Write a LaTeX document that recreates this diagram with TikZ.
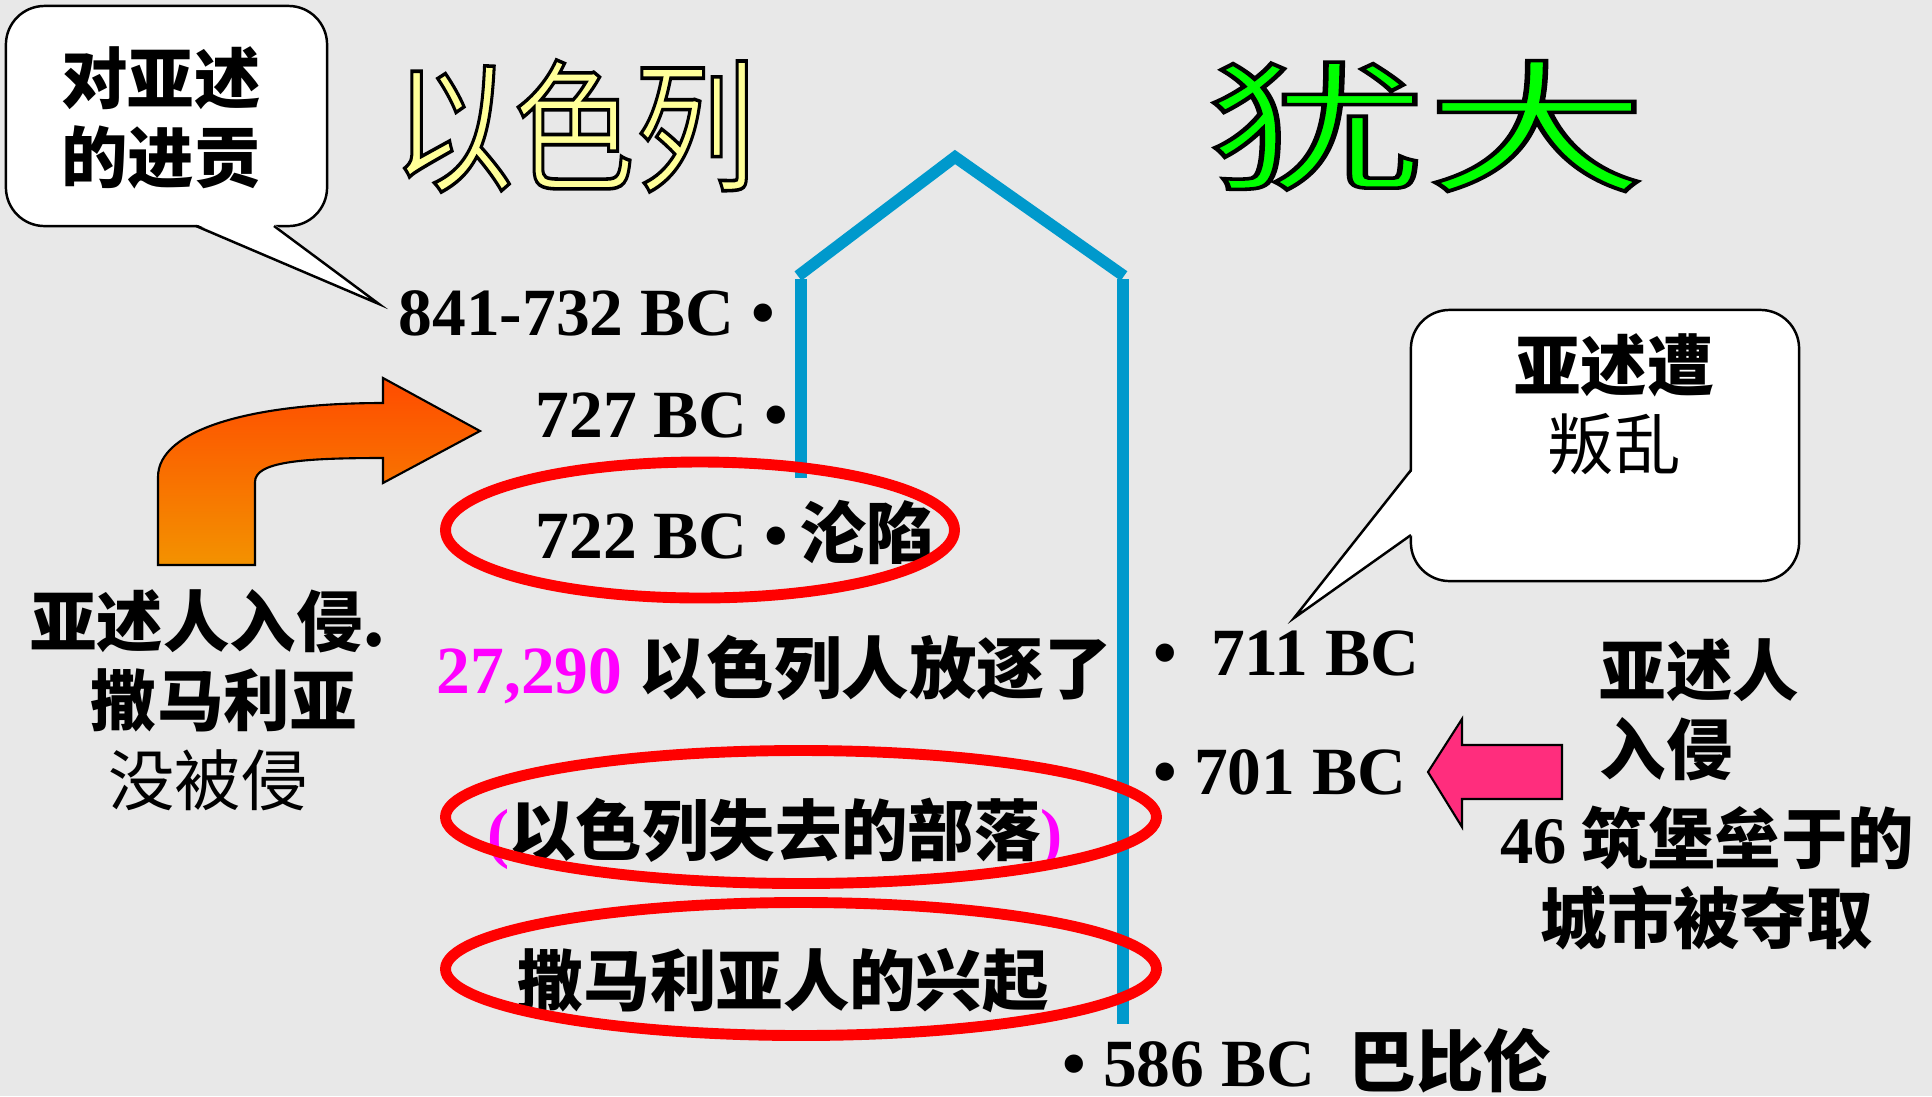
\documentclass[tikz,border=0pt]{standalone}
\usepackage{fontspec}
\usepackage{graphicx}
\setmainfont{Liberation Serif}
\newfontfamily\cjk{Noto Sans CJK SC}
\newfontfamily\cjkout{Noto Sans CJK SC}[FakeBold=2.5]
\newcommand\outlined[2]{\special{pdf:bcolor [#1] [0 0 0]}#2\special{pdf:ecolor}}
\definecolor{granite}{RGB}{232,232,232}
\definecolor{lineblue}{RGB}{0,153,204}
\definecolor{numpink}{RGB}{255,0,255}
\definecolor{arrowpink}{RGB}{255,45,125}
\definecolor{arrowtop}{RGB}{255,75,0}
\definecolor{arrowbot}{RGB}{243,146,0}
\tikzset{
  cjktxt/.style={font=\cjk\fontsize{18.9}{22.6}\selectfont,inner sep=0pt,align=center},
  cjkbold/.style={font=\cjk\bfseries\fontsize{18.9}{22.6}\selectfont,inner sep=0pt,align=center},
  datetxt/.style={font=\bfseries\fontsize{19.2}{22.6}\selectfont,inner sep=0pt,anchor=base west},
  titletxt/.style={font=\cjkout\fontsize{40.5}{41}\selectfont,inner sep=0pt},
  bubble/.style={draw,fill=white,line width=0.7pt,rounded corners=11pt},
  ring/.style={draw=red,line width=3.1pt},
  timeline/.style={draw=lineblue,line width=3.3pt}
}
\begin{document}
\begin{tikzpicture}[x=0.01cm,y=-0.01cm]
	\fill[granite] (0,0) rectangle (1932,1096);
	\useasboundingbox (0,0) rectangle (1932,1096);
	\node[titletxt] (israel) at (574,126) {\scalebox{0.85}[1]{\outlined{1 1 0.6}{以色列}}};
	\node[titletxt] (judah) at (1426,126) {\scalebox{1.55}[1]{\outlined{0 1 0}{犹大}}};
	\draw[timeline] (801,478) -- (801,279);
	\draw[timeline] (798,276) -- (955,157) -- (1124,276);
	\draw[timeline] (1123,279) -- (1123,1024);
	\node[bubble,minimum width=3.21cm,minimum height=2.2cm] (tributebox) at (166.5,116) {};
	\coordinate (tributetip) at (379,304);
	\fill[white] (196,224) -- (tributetip) -- (274,224) -- cycle;
	\draw[line width=0.7pt] (196,226) -- (tributetip) -- (274,226);
	\node[cjkbold] (tribute) at (161,118) {对亚述\\的进贡};
	\node[bubble,minimum width=3.88cm,minimum height=2.71cm] (revoltbox) at (1605,445.5) {};
	\coordinate (revolttip) at (1294,618);
	\fill[white] (1413,470) -- (revolttip) -- (1413,535) -- cycle;
	\draw[line width=0.7pt] (1411,470) -- (revolttip) -- (1411,535);
	\node[cjktxt] (revolt) at (1614,404) {{\bfseries 亚述遭}\\叛乱};
	\node[datetxt] (d841) at (398,335) {841-732 BC •};
	\node[datetxt] (d727) at (535,437) {727 BC •};
	\node[datetxt] (d722) at (535,558) {722 BC •\,{\cjk 沦陷}};
	\node[datetxt] (exiles) at (436,693) {{\color{numpink}27,290} {\cjk 以色列人放逐了}};
	\node[cjkbold] (lost) at (775,834) {{\color{numpink}\rmfamily (}以色列失去的部落{\color{numpink}\rmfamily )}};
	\node[cjkbold] (rise) at (783,981) {撒马利亚人的兴起};
	\draw[ring] (700,530) ellipse [x radius=254.5,y radius=68];
	\draw[ring] (801,817) ellipse [x radius=355.5,y radius=66.5];
	\draw[ring] (801,969) ellipse [x radius=355.5,y radius=66.5];
	\draw[line width=0.6pt,top color=arrowtop,bottom color=arrowbot] (158,565) -- (158,477) .. controls (158,430) and (250,403) .. (383,403) -- (383,378) -- (480,431) -- (383,483) -- (383,458) .. controls (300,458) and (255,462) .. (255,482) -- (255,565) -- cycle;
	\node[cjktxt] (invaded) at (208,700) {{\bfseries 亚述人入侵.}\\\hspace{9pt}{\bfseries 撒马利亚}\\没被侵};
	\node[datetxt] (d711) at (1153,675) {•\ \ 711 BC};
	\node[datetxt] (d701) at (1153,794) {• 701 BC};
	\node[datetxt] (d586) at (1062,1086) {• 586 BC\ \ {\cjk 巴比伦}};
	\draw[line width=0.6pt,fill=arrowpink] (1428,772) -- (1462,719) -- (1462,745) -- (1562,745) -- (1562,799) -- (1462,799) -- (1462,827) -- cycle;
	\node[cjkbold,align=left,anchor=west] (assyria) at (1599,710) {亚述人\\入侵};
	\node[cjkbold] (cities) at (1707,878) {{\rmfamily 46} 筑堡垒于的\\城市被夺取};
\end{tikzpicture}
\end{document}
